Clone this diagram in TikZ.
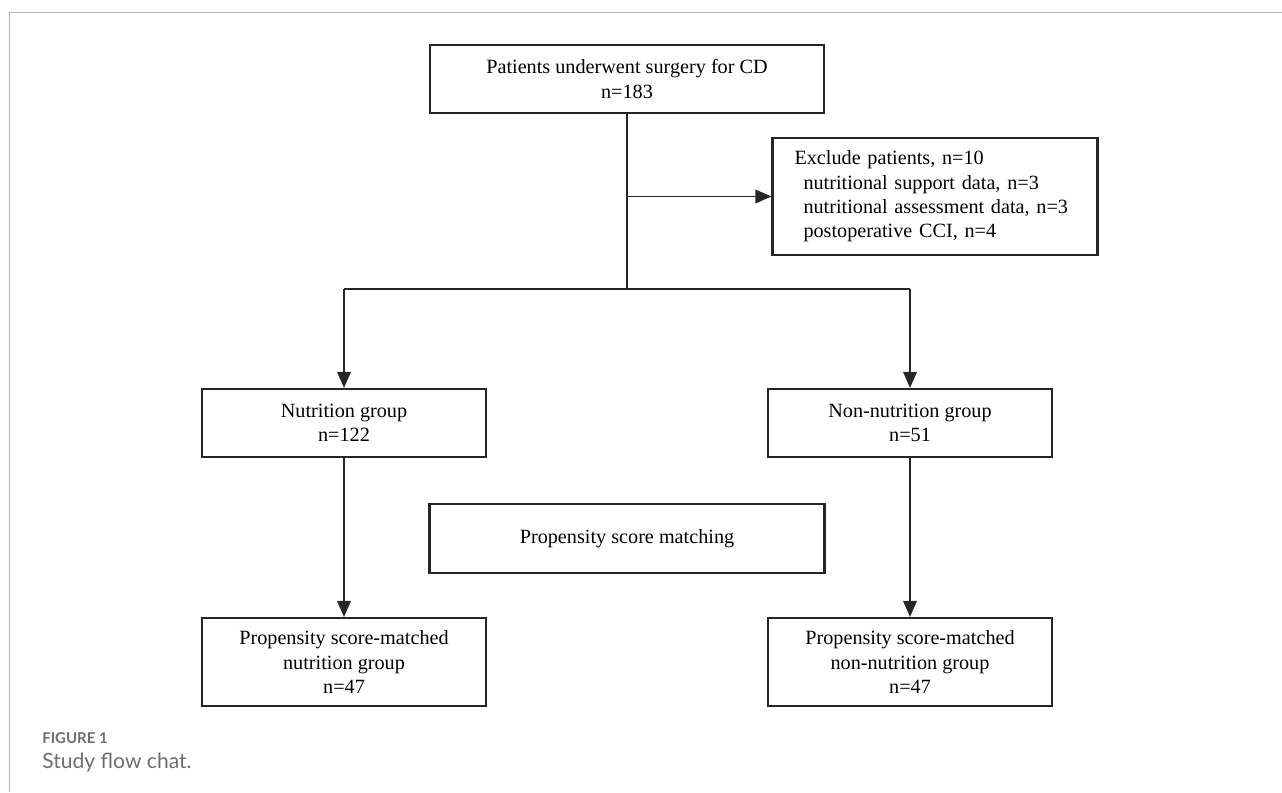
\documentclass[tikz,border=0pt]{standalone}
\usepackage{fontspec}
\setmainfont{Liberation Serif}
\newfontfamily\captionfont{Lato}
\usepackage{xcolor}
\usetikzlibrary{arrows.meta}

\definecolor{framegrey}{HTML}{B5B5B5}
\definecolor{capgrey}{HTML}{6D6E71}

\begin{document}
\begin{tikzpicture}[node distance=1.5cm,
  box/.style={rectangle, draw=black!85, line width=1.2pt, align=center, font=\fontsize{11.5}{13.8}\selectfont},
  link/.style={line width=1pt, black!85},
  arr/.style={link, -{Triangle[length=3.2mm,width=2.7mm]}}]
\useasboundingbox (0,0) rectangle (25.64,-15.84);
\draw[framegrey, line width=0.5pt] (0.18,-15.84) -- (0.18,-0.24) -- (25.64,-0.24);

\node (patients) [box, minimum width=7.88cm, minimum height=1.36cm] at (12.54,-1.58) {Patients underwent surgery for CD\\n=183};
\node (exclude) [box, text width=5.62cm, inner xsep=0.44cm, align=left, minimum height=2.34cm, right of=patients, xshift=4.66cm, yshift=-2.35cm] {Exclude patients, n=10\\\hspace*{0.18cm}nutritional support data, n=3\\\hspace*{0.18cm}nutritional assessment data, n=3\\\hspace*{0.18cm}postoperative CCI, n=4};
\node (nutr) [box, minimum width=5.68cm, minimum height=1.36cm, below of=patients, xshift=-5.66cm, yshift=-5.38cm] {Nutrition group\\n=122};
\node (nonnutr) [box, minimum width=5.68cm, minimum height=1.36cm, right of=nutr, xshift=9.82cm] {Non-nutrition group\\n=51};
\node (psm) [box, minimum width=7.9cm, minimum height=1.38cm, below of=patients, yshift=-7.69cm] {Propensity score matching};
\node (mnutr) [box, minimum width=5.68cm, minimum height=1.76cm, below of=nutr, yshift=-3.28cm] {Propensity score-matched\\nutrition group\\n=47};
\node (mnonnutr) [box, minimum width=5.68cm, minimum height=1.76cm, below of=nonnutr, yshift=-3.28cm] {Propensity score-matched\\non-nutrition group\\n=47};
\coordinate [below of=patients, yshift=-2.7cm] (fork);

\draw[link] (patients) -- (fork);
\draw[arr] (patients.south |- exclude.west) -- (exclude.west);
\draw[link] (nutr.north |- fork) -- (nonnutr.north |- fork);
\draw[arr] (nutr.north |- fork) -- (nutr);
\draw[arr] (nonnutr.north |- fork) -- (nonnutr);
\draw[arr] (nutr) -- (mnutr);
\draw[arr] (nonnutr) -- (mnonnutr);

\node (figlabel) [anchor=base west, inner sep=0, text=capgrey, font=\captionfont\bfseries\fontsize{8.5}{10}\selectfont] at (0.84,-14.86) {FIGURE 1};
\node (figtitle) [anchor=base west, inner sep=0, text=capgrey, font=\captionfont\fontsize{12}{14}\selectfont] at (0.84,-15.36) {Study flow chat.};
\end{tikzpicture}
\end{document}
